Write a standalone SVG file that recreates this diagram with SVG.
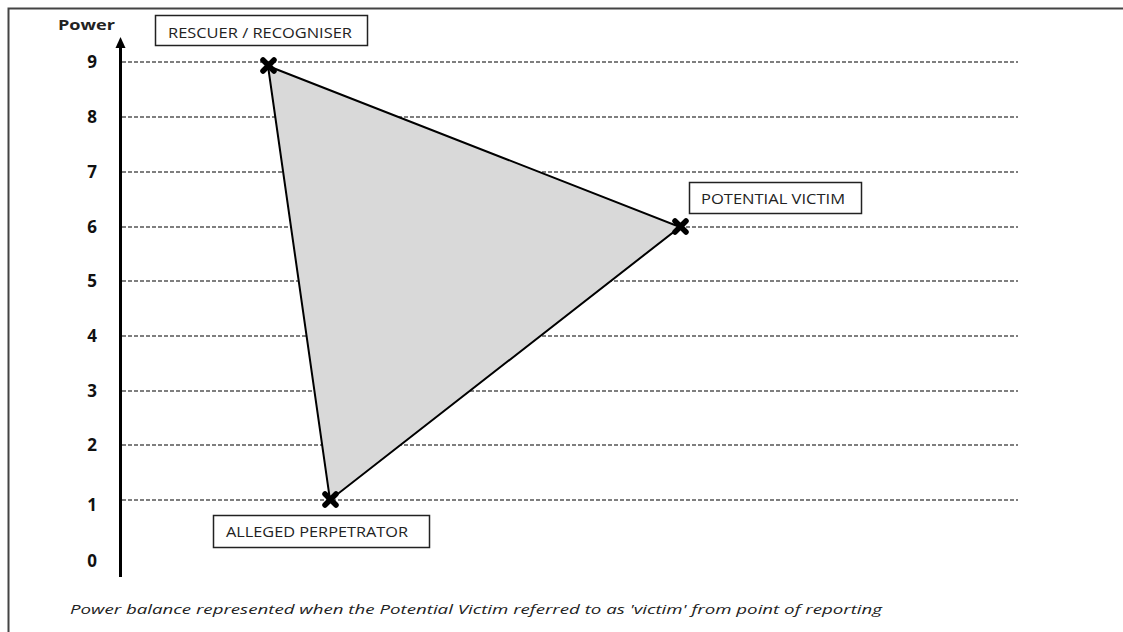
<svg xmlns="http://www.w3.org/2000/svg" width="1123" height="632" viewBox="0 0 1123 632">
<style>
.grid{stroke:#000;stroke-width:1.2;stroke-dasharray:4,2;fill:none}
.num{font-family:"Open Sans","Liberation Sans",sans-serif;font-weight:bold;font-size:17px;fill:#111;text-anchor:middle}
.lbl{font-family:"Open Sans","Liberation Sans",sans-serif;font-size:15px;fill:#222}
.box{fill:#fff;stroke:#222;stroke-width:1.5}
.cross{stroke:#000;stroke-width:5.5;stroke-linecap:round}
</style>
<rect x="0" y="0" width="1123" height="632" fill="#fff"/>
<rect x="8.5" y="8.5" width="1120" height="630" fill="none" stroke="#444" stroke-width="2"/>
<g id="grid">
<line class="grid" x1="122" y1="62" x2="1018" y2="62"/>
<line class="grid" x1="122" y1="117" x2="1018" y2="117"/>
<line class="grid" x1="122" y1="172" x2="1018" y2="172"/>
<line class="grid" x1="122" y1="227" x2="1018" y2="227"/>
<line class="grid" x1="122" y1="281" x2="1018" y2="281"/>
<line class="grid" x1="122" y1="336" x2="1018" y2="336"/>
<line class="grid" x1="122" y1="391" x2="1018" y2="391"/>
<line class="grid" x1="122" y1="445" x2="1018" y2="445"/>
<line class="grid" x1="122" y1="500" x2="1018" y2="500"/>
</g>
<g id="axis">
<line x1="120.5" y1="577" x2="120.5" y2="45" stroke="#000" stroke-width="3"/>
<polygon points="120.5,37 115.5,48 125.5,48" fill="#000"/>
<text x="58" y="30" font-family="'Open Sans','Liberation Sans',sans-serif" font-weight="bold" font-size="14px" fill="#222" textLength="57" lengthAdjust="spacingAndGlyphs">Power</text>
<text class="num" x="92" y="68">9</text>
<text class="num" x="92" y="123">8</text>
<text class="num" x="92" y="178">7</text>
<text class="num" x="92" y="233">6</text>
<text class="num" x="92" y="287">5</text>
<text class="num" x="92" y="342">4</text>
<text class="num" x="92" y="397">3</text>
<text class="num" x="92" y="451">2</text>
<text class="num" x="92" y="511">1</text>
<text class="num" x="92" y="567">0</text>
</g>
<g id="connectors">
<polygon points="268,66 680,227 330,500" fill="#d9d9d9" stroke="#000" stroke-width="2"/>
</g>
<g id="rescuer">
<path class="cross" d="M263,60 L274,71 M274,60 L263,71"/>
<rect class="box" x="155.5" y="15.5" width="212" height="30"/>
<text class="lbl" x="168" y="38" textLength="184" lengthAdjust="spacingAndGlyphs">RESCUER / RECOGNISER</text>
</g>
<g id="victim">
<path class="cross" d="M675,221 L686,232 M686,221 L675,232"/>
<rect class="box" x="689.5" y="182.5" width="172" height="31"/>
<text class="lbl" x="701" y="204" textLength="144" lengthAdjust="spacingAndGlyphs">POTENTIAL VICTIM</text>
</g>
<g id="perpetrator">
<path class="cross" d="M325,494 L336,505 M336,494 L325,505"/>
<rect class="box" x="213.5" y="515.5" width="216" height="32"/>
<text class="lbl" x="226" y="537" textLength="182" lengthAdjust="spacingAndGlyphs">ALLEGED PERPETRATOR</text>
</g>
<text x="70" y="614" font-family="'Open Sans','Liberation Sans',sans-serif" font-style="italic" font-size="13px" fill="#222" textLength="812" lengthAdjust="spacingAndGlyphs">Power balance represented when the Potential Victim referred to as 'victim' from point of reporting</text>
</svg>
